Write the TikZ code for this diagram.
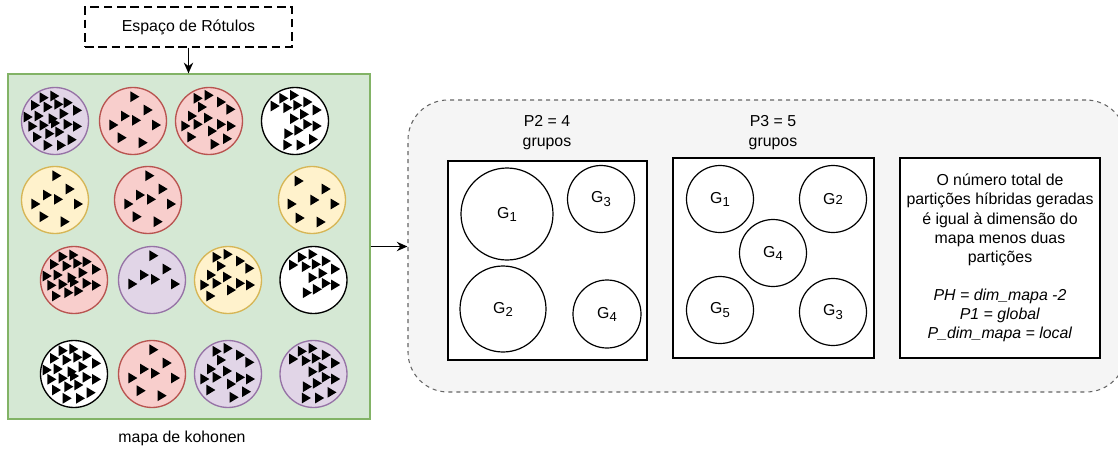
\documentclass[tikz,border=0pt]{standalone}
\usepackage{fontspec}
\setmainfont{Liberation Sans}
\usetikzlibrary{arrows.meta}
\definecolor{purpF}{HTML}{E1D5E7}
\definecolor{purpS}{HTML}{9673A6}
\definecolor{redF}{HTML}{F8CECC}
\definecolor{redS}{HTML}{B85450}
\definecolor{yelF}{HTML}{FFF2CC}
\definecolor{yelS}{HTML}{D6B656}
\definecolor{grnF}{HTML}{D5E8D4}
\definecolor{grnS}{HTML}{82B366}
\definecolor{panF}{HTML}{F5F5F5}
\definecolor{panS}{HTML}{666666}
\newcommand\gsub[1]{G\raisebox{-2.3pt}{\fontsize{9.8pt}{9.8pt}\selectfont #1}}
\newcommand\gnorm[1]{G{\fontsize{9.8pt}{9.8pt}\selectfont #1}}
\def\patA{-11/-23.3, -0.3/-25, -19.7/-15.7, -7/-14, 3.7/-16.7, 13/-18.3, 22.3/-10.7, -27/-4, -16/-5, -2/-2.3, 9/-7.3, -22.3/5.3, -11/4.3, 0.3/2, 13/3.3, 22.3/5.3, -17.7/16, -5.3/12.7, 4.7/11, 17/18.7, -7/24.3, 6.3/24.3}
\def\patAr{-11/-23.3, -0.3/-25, -19.7/-15.7, -7/-14, 3.7/-16.7, 13/-18.3, 22.3/-10.7, -27/-4, -16/-5, -2/-2.3, 9/-7.3, -22.3/5.3, -11/4.3, 0.3/2, 13/3.3, 22.3/5.3, -17.7/16, -5.3/12.7, 4.7/11}
\def\patB{1.7/-24.3, 15/-11, -7.7/-5, 3.3/-0.7, -19.3/4, 23.3/4, -11/16.7, 10/21.7}
\def\patBr{1.7/-24.3, 15/-11, -7.7/-5, 3.3/-0.7, -19.3/4, 23.3/4}
\def\patBy{-13/-19, 14/-11, 2.7/0, -20/4, 23/4, -12/18, 9/22}
\def\patC{-11/-22.7, 0/-25.7, 12.3/-19, -6.7/-14, 21.7/-11.7, -16.7/-5, -0.7/-3, -23.3/5, -11/3.3, 3.3/10, 12.3/3.3, 22.3/5, -17.3/16, 6/23.3, 18.3/17.7}
\def\patCr{-11/-22.7, 0/-25.7, 12.3/-19, -6.7/-14, 21.7/-11.7, -16.7/-5, -0.7/-3, -23.3/5, -11/3.3, 3.3/10, 12.3/3.3, 22.3/5, -17.3/16}
\def\patD{-11.3/-22.7, -0.7/-25.7, -20/-15, -7.3/-13.3, 2.7/-15.7, 12.7/-19, 22/-11, -0.7/-2.3, 9.3/-6.7, 22/5, -6.3/12.7, 3.7/9.3, 12.7/3.3, 18.3/18.3, -7.3/24, 6/24}
\def\patDr{-11.3/-22.7, -0.7/-25.7, -20/-15, -7.3/-13.3, 2.7/-15.7, 12.7/-19, 22/-11, -0.7/-2.3, 9.3/-6.7, 22/5, -6.3/12.7, 3.7/9.3, 12.7/3.3}
\newcommand\tris[2]{\foreach \dx/\dy in #2 {\fill[shift={(#1.center)}] (\dx-4.3,\dy-5.4) -- (\dx+4.7,\dy) -- (\dx-4.3,\dy+5.4) -- cycle;}}
\begin{document}
\begin{tikzpicture}[x=0.75pt,y=-0.75pt, font=\fontsize{11.9pt}{14.3pt}\selectfont,
  kc/.style={circle, minimum size=50.25pt, inner sep=0pt, line width=1pt},
  pc/.style={kc, fill=purpF, draw=purpS},
  rc/.style={kc, fill=redF, draw=redS},
  yc/.style={kc, fill=yelF, draw=yelS},
  wc/.style={kc, fill=white, draw=black},
  gc/.style={circle, draw=black, fill=white, inner sep=0pt, line width=0.9pt},
  boxw/.style={draw=black, fill=white, line width=1pt, inner sep=0pt},
  arr/.style={-{Stealth[length=8pt,width=7pt]}, line width=1.1pt}]
\useasboundingbox (0,0) rectangle (1118,450);
% left part
\node[draw=black, dash pattern=on 6.5pt off 3.5pt, line width=1pt, minimum width=155.25pt, minimum height=30pt, inner sep=0pt] (lab) at (188.5,27) {Espaço de Rótulos};
\node[draw=grnS, fill=grnF, line width=1pt, minimum width=271.5pt, minimum height=258.75pt, inner sep=0pt] (map) at (189,246.5) {};
\node (maplbl) at (182,438) {mapa de kohonen};
\draw[arr] (lab.south) -- (lab.south |- map.north);
% right panel
\node[draw=panS, fill=panF, dash pattern=on 3pt off 3pt, rounded corners=30pt, line width=0.8pt, minimum width=538.5pt, minimum height=219pt, inner sep=0pt] (panel) at (767,246) {};
\draw[arr] (map.east) -- (map.east -| panel.west);
% kohonen circles
\node[pc] (c11) at (55,121) {};
\node[rc] (c12) at (133,121) {};
\node[rc] (c13) at (209,121) {};
\node[wc] (c14) at (295,121) {};
\node[yc] (c21) at (55,200) {};
\node[rc] (c22) at (148,200) {};
\node[yc] (c23) at (312,200) {};
\node[rc] (c31) at (74,280) {};
\node[pc] (c32) at (152,280) {};
\node[yc] (c33) at (228,280) {};
\node[wc] (c34) at (313.5,280) {};
\node[wc] (c41) at (74,374) {};
\node[rc] (c42) at (152,374) {};
\node[pc] (c43) at (228,374) {};
\node[pc] (c44) at (313.5,374) {};
\tris{c11}{\patA}
\tris{c12}{\patB}
\tris{c13}{\patC}
\tris{c14}{\patD}
\tris{c21}{\patB}
\tris{c22}{\patB}
\tris{c23}{\patBy}
\tris{c31}{\patAr}
\tris{c32}{\patBr}
\tris{c33}{\patCr}
\tris{c34}{\patDr}
\tris{c41}{\patA}
\tris{c42}{\patB}
\tris{c43}{\patC}
\tris{c44}{\patD}
% P2
\node[boxw, minimum width=149.25pt, minimum height=149.25pt] (p2) at (547.5,260.5) {};
\node[align=center, font=\fontsize{11.9pt}{15pt}\selectfont] (p2t) at (547,133) {P2 = 4\\grupos};
\node[gc, minimum size=69pt] (p2g1) at (507,214) {\gsub{1}};
\node[gc, minimum size=50.25pt] (p2g3) at (601,199) {\gsub{3}};
\node[gc, minimum size=64.5pt] (p2g2) at (503,309) {\gsub{2}};
\node[gc, minimum size=51pt] (p2g4) at (607,314) {\gsub{4}};
% P3
\node[boxw, minimum width=150.75pt, minimum height=150pt] (p3) at (773.5,258) {};
\node[align=center, font=\fontsize{11.9pt}{15pt}\selectfont] (p3t) at (773,133) {P3 = 5\\grupos};
\node[gc, minimum size=50.25pt] (p3g1) at (720,199) {\gsub{1}};
\node[gc, minimum size=50.25pt] (p3g2) at (833,199) {\gnorm{2}};
\node[gc, minimum size=50.25pt] (p3g4) at (773,253) {\gsub{4}};
\node[gc, minimum size=50.25pt] (p3g5) at (720,310) {\gsub{5}};
\node[gc, minimum size=50.25pt] (p3g3) at (833,312) {\gsub{3}};
% note
\node[boxw, minimum width=150pt, minimum height=150pt, align=center] (note) at (1000,258) {O número total de\\partições híbridas geradas\\é igual à dimensão do\\mapa menos duas\\partições\\[14.3pt]\textit{PH = dim\_mapa -2}\\\textit{P1 = global}\\\textit{P\_dim\_mapa = local}};
\end{tikzpicture}
\end{document}
